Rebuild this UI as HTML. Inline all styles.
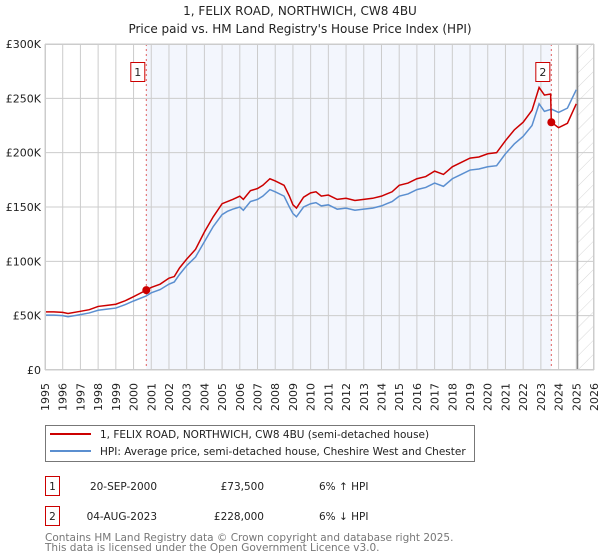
<!DOCTYPE html>
<html><head><meta charset="utf-8"><style>
body{margin:0;background:#fff;}
svg{display:block;font-family:"DejaVu Sans","Liberation Sans",sans-serif;}
</style></head><body>
<svg id="chart" width="600" height="560" viewBox="0 0 600 560">
<text x="300" y="15" text-anchor="middle" font-size="12" fill="#222">1, FELIX ROAD, NORTHWICH, CW8 4BU</text>
<text x="300" y="33" text-anchor="middle" font-size="12" fill="#222">Price paid vs. HM Land Registry's House Price Index (HPI)</text>
<g id="plot"></g>
<g>
<rect x="45.5" y="425.5" width="429" height="36" fill="#fff" stroke="#777"/>
<line x1="50" y1="434" x2="91" y2="434" stroke="#cc0000" stroke-width="2"/>
<text x="100" y="438" font-size="10.5" fill="#222">1, FELIX ROAD, NORTHWICH, CW8 4BU (semi-detached house)</text>
<line x1="50" y1="451" x2="91" y2="451" stroke="#5b8fd0" stroke-width="2"/>
<text x="100" y="455" font-size="10.5" fill="#222">HPI: Average price, semi-detached house, Cheshire West and Chester</text>
</g>
<g font-size="10.5" fill="#222">
<rect x="45.5" y="476.5" width="14" height="19" fill="#fff" stroke="#cc0000"/>
<text x="52.5" y="490" text-anchor="middle">1</text>
<text x="157" y="490" text-anchor="end">20-SEP-2000</text>
<text x="264" y="490" text-anchor="end">£73,500</text>
<text x="319" y="490">6% ↑ HPI</text>
<rect x="45.5" y="506.5" width="14" height="19" fill="#fff" stroke="#cc0000"/>
<text x="52.5" y="520" text-anchor="middle">2</text>
<text x="157" y="520" text-anchor="end">04-AUG-2023</text>
<text x="264" y="520" text-anchor="end">£228,000</text>
<text x="319" y="520">6% ↓ HPI</text>
</g>
<text x="45" y="541" font-size="10.5" fill="#777">Contains HM Land Registry data © Crown copyright and database right 2025.</text>
<text x="45" y="551" font-size="10.5" fill="#777">This data is licensed under the Open Government Licence v3.0.</text>
</svg>
<script>
const hpiYears = [1995,1995.5,1996,1996.3,1997,1997.5,1998,1998.5,1999,1999.5,2000,2000.7,2001,2001.5,2002,2002.3,2002.6,2003,2003.5,2004,2004.5,2005,2005.3,2005.6,2006,2006.2,2006.6,2007,2007.3,2007.7,2008,2008.5,2008.8,2009,2009.2,2009.6,2010,2010.3,2010.6,2011,2011.5,2012,2012.5,2013,2013.5,2014,2014.3,2014.6,2015,2015.5,2016,2016.5,2017,2017.5,2018,2018.5,2019,2019.5,2020,2020.5,2021,2021.5,2022,2022.5,2022.9,2023.2,2023.6,2024,2024.5,2025];
const hpiValues = [50500,50500,50000,49000,51000,52500,55000,56000,57000,60000,63500,68000,71000,74000,79000,81000,88000,96000,104000,118000,132000,143000,146000,148000,150000,147000,155000,157000,160000,166000,164000,160000,150000,144000,141000,150000,153000,154000,151000,152000,148000,149000,147000,148000,149000,151000,153000,155000,160000,162000,166000,168000,172000,169000,176000,180000,184000,185000,187000,188000,199000,208000,215000,225000,245000,238000,240000,237000,241000,258000];
const propYears = [1995,1995.5,1996,1996.3,1997,1997.5,1998,1998.5,1999,1999.5,2000,2000.72,2001,2001.5,2002,2002.3,2002.6,2003,2003.5,2004,2004.5,2005,2005.3,2005.6,2006,2006.2,2006.6,2007,2007.3,2007.7,2008,2008.5,2008.8,2009,2009.2,2009.6,2010,2010.3,2010.6,2011,2011.5,2012,2012.5,2013,2013.5,2014,2014.3,2014.6,2015,2015.5,2016,2016.5,2017,2017.5,2018,2018.5,2019,2019.5,2020,2020.5,2021,2021.5,2022,2022.5,2022.9,2023.2,2023.55,2023.59,2024,2024.5,2025];
const propValues = [53500,53500,53000,52000,54000,55500,58500,59500,60500,63500,67500,73500,76000,79000,84500,86000,94000,102000,111000,127000,141000,153000,155000,157000,160000,157000,165000,167000,170000,176000,174000,170000,160000,152000,149000,159000,163000,164000,160000,161000,157000,158000,156000,157000,158000,160000,162000,164000,170000,172000,176000,178000,183000,180000,187000,191000,195000,196000,199000,200000,211000,221000,228000,239000,260000,253000,254000,228000,223000,227000,245000];
const yTicks = [0,50000,100000,150000,200000,250000,300000];
const yTickLabels = ["£0","£50K","£100K","£150K","£200K","£250K","£300K"];
const xTicks = [1995,1996,1997,1998,1999,2000,2001,2002,2003,2004,2005,2006,2007,2008,2009,2010,2011,2012,2013,2014,2015,2016,2017,2018,2019,2020,2021,2022,2023,2024,2025,2026];
const sales = [{n:"1",year:2000.72,value:73500},{n:"2",year:2023.59,value:228000}];
const shadeRange = [2000.72,2023.59];
const forecastStart = 2025.07;

const L=45,R=594,T=44,B=370;
const x=v=>L+(v-1995)/(2026-1995)*(R-L);
const y=v=>B-v/300000*(B-T);
const NS="http://www.w3.org/2000/svg";
const plot=document.getElementById('plot');
function mk(tag,attrs,parent){const e=document.createElementNS(NS,tag);for(const k in attrs)e.setAttribute(k,attrs[k]);(parent||plot).appendChild(e);return e;}

let e;
e=mk('rect',{x:x(shadeRange[0]),y:T,width:x(shadeRange[1])-x(shadeRange[0]),height:B-T,fill:'#f3f6fd'});


const defs=mk('defs',{});
const pat=mk('pattern',{id:'hatch',width:10,height:10,patternUnits:'userSpaceOnUse',patternTransform:'rotate(45)'},defs);
mk('line',{x1:0,y1:0,x2:0,y2:10,stroke:'#d8d8d8','stroke-width':1},pat);
e=mk('rect',{x:x(forecastStart),y:T,width:R-x(forecastStart),height:B-T,fill:'url(#hatch)'});



xTicks.forEach(t=>{
  e=mk('line',{x1:x(t),y1:T,x2:x(t),y2:B,stroke:'#cccccc','stroke-width':1});
  
  
  e=mk('text',{x:0,y:0,transform:`translate(${x(t)+4},383) rotate(-90)`,'text-anchor':'end','font-size':11,fill:'#222'});
  e.textContent=t;
  
  
});
yTicks.forEach((t,i)=>{
  e=mk('line',{x1:L,y1:y(t),x2:R,y2:y(t),stroke:'#cccccc','stroke-width':1});
  
  
  e=mk('text',{x:L-4,y:y(t)+4,'text-anchor':'end','font-size':11,fill:'#222'});
  e.textContent=yTickLabels[i];
  
  
});
e=mk('line',{x1:x(forecastStart),y1:T,x2:x(forecastStart),y2:B,stroke:'#888','stroke-width':1.5});



sales.forEach(s=>{
  e=mk('line',{x1:x(s.year),y1:T,x2:x(s.year),y2:B,stroke:'#e06060','stroke-width':1,'stroke-dasharray':'2,3'});
  
  
});

e=mk('polyline',{points:hpiYears.map((t,i)=>x(t)+','+y(hpiValues[i])).join(' '),fill:'none',stroke:'#5b8fd0','stroke-width':1.5});


e=mk('polyline',{points:propYears.map((t,i)=>x(t)+','+y(propValues[i])).join(' '),fill:'none',stroke:'#cc0000','stroke-width':1.5});



sales.forEach(s=>{
  e=mk('circle',{cx:x(s.year),cy:y(s.value),r:4,fill:'#cc0000'});
  
  
  e=mk('rect',{x:x(s.year)-15.5,y:62.5,width:14,height:19,fill:'#fff',stroke:'#cc0000'});
  
  
  e=mk('text',{x:x(s.year)-8.5,y:76,'text-anchor':'middle','font-size':11,fill:'#222'});
  e.textContent=s.n;
  
  
});
e=mk('rect',{x:L+0.5,y:T+0.5,width:R-L-1,height:B-T-1,fill:'none',stroke:'#cccccc'});


</script>
</body></html>
